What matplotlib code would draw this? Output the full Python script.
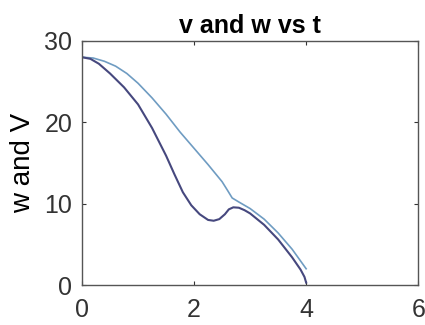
import matplotlib.pyplot as plt

plt.rcParams['font.family'] = ['Liberation Sans', 'DejaVu Sans']

# values
t_v = [0, 0.15, 0.3, 0.5, 0.75, 1.0, 1.25, 1.5, 1.65, 1.8, 1.95, 2.1, 2.25,
       2.35, 2.45, 2.55, 2.62, 2.7, 2.8, 2.9, 3.0, 3.25, 3.5, 3.75, 3.9, 3.97, 4.0]
v = [28, 27.8, 27.2, 26.0, 24.3, 22.2, 19.3, 15.9, 13.6, 11.4, 9.8, 8.7, 8.0,
     7.9, 8.1, 8.7, 9.3, 9.55, 9.5, 9.2, 8.8, 7.4, 5.6, 3.4, 1.9, 1.0, 0.3]

t_w = [0, 0.2, 0.4, 0.6, 0.8, 1.0, 1.25, 1.5, 1.75, 2.0, 2.25, 2.5, 2.6, 2.68,
       2.8, 3.0, 3.25, 3.5, 3.75, 4.0]
w = [28, 27.9, 27.5, 26.9, 26.0, 24.8, 23.0, 21.0, 18.8, 16.8, 14.8, 12.7, 11.6,
     10.7, 10.2, 9.4, 8.1, 6.4, 4.4, 2.0]

fig = plt.figure(figsize=(4.25, 3.25), dpi=100)
ax = fig.add_axes([0.193, 0.123, 0.791, 0.751])

ax.plot(t_w, w, color='#6f9cc2', lw=1.2)
ax.plot(t_v, v, color='#46487e', lw=1.5)

ax.set_xlim(0, 6)
ax.set_ylim(0, 30)
ax.set_xticks([0, 2, 4, 6])
ax.set_yticks([0, 10, 20, 30])
ax.tick_params(direction='in', top=True, right=True, length=3,
               labelsize=18, colors='#333333')
ax.tick_params(axis='x', pad=9)
ax.tick_params(axis='y', pad=7)
for s in ax.spines.values():
    s.set_color('#555555')
    s.set_linewidth(1.0)

ax.set_title('v and w vs t', fontsize=18, fontweight='bold', pad=6)
ax.set_ylabel('w and V', fontsize=20, labelpad=6)

fig.savefig('out.png', dpi=100)
